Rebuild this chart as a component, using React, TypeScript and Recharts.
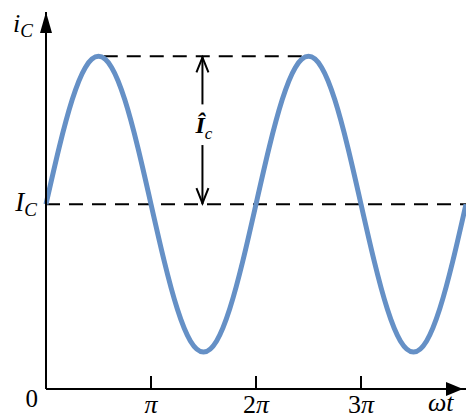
import React from 'react';
import { LineChart, Line, XAxis, YAxis, ReferenceLine, ReferenceDot } from 'recharts';

// ωt in units of π
const phase = [
  0, 0.125, 0.25, 0.375, 0.5, 0.625, 0.75, 0.875,
  1, 1.125, 1.25, 1.375, 1.5, 1.625, 1.75, 1.875,
  2, 2.125, 2.25, 2.375, 2.5, 2.625, 2.75, 2.875,
  3, 3.125, 3.25, 3.375, 3.5, 3.625, 3.75, 3.875, 4,
];
// collector current i_C (I_C = 5, peak 9, trough 1)
const current = [
  5, 6.53, 7.83, 8.7, 9, 8.7, 7.83, 6.53,
  5, 3.47, 2.17, 1.3, 1, 1.3, 2.17, 3.47,
  5, 6.53, 7.83, 8.7, 9, 8.7, 7.83, 6.53,
  5, 3.47, 2.17, 1.3, 1, 1.3, 2.17, 3.47, 5,
];
const xTicks = [1, 2, 3];
const xTickLabels = ['π', '2π', '3π'];
const yTicks = [0, 5];
const dcLevel = 5;
const peakLevel = 9;

const data = phase.map((p, i) => ({ p, i: current[i] }));

const serif = '"Liberation Serif", "DejaVu Serif", serif';
const blue = '#6590c6';

const XTick = (props: any) => {
  const { x, y, payload } = props;
  const idx = xTicks.indexOf(payload.value);
  const label = xTickLabels[idx] ?? '';
  const digit = label.length > 1 ? label.slice(0, -1) : '';
  return (
    <text x={x} y={y + 24} textAnchor="middle" fontFamily={serif} fontSize={26} fill="#000">
      {digit}
      <tspan fontStyle="italic">π</tspan>
    </text>
  );
};

const YTick = (props: any) => {
  const { x, y, payload } = props;
  if (payload.value === 0) {
    return (
      <text x={x - 8} y={y + 18} textAnchor="end" fontFamily={serif} fontSize={25} fill="#000">0</text>
    );
  }
  return (
    <text x={x - 9} y={y + 7} textAnchor="end" fontFamily={serif} fontStyle="italic" fontSize={27} fill="#000">
      I<tspan dy={5} fontSize={19}>C</tspan>
    </text>
  );
};

const upHead = (p: any) => <path d={`M${p.cx} ${p.cy} l-6 21 h12 z`} fill="#000" />;
const rightHead = (p: any) => <path d={`M${p.cx - 3} ${p.cy} l-17 -7 v14 z`} fill="#000" />;
const openUp = (p: any) => (
  <path d={`M${p.cx - 6} ${p.cy + 16} L${p.cx} ${p.cy + 1} L${p.cx + 6} ${p.cy + 16}`} stroke="#000" strokeWidth={2} fill="none" />
);
const openDown = (p: any) => (
  <path d={`M${p.cx - 6} ${p.cy - 16} L${p.cx} ${p.cy - 1} L${p.cx + 6} ${p.cy - 16}`} stroke="#000" strokeWidth={2} fill="none" />
);
const ampLabel = (p: any) => (
  <text x={p.cx - 7} y={p.cy + 8} fontFamily={serif} fontStyle="italic" fontWeight="bold" fontSize={24} fill="#000">
    Î<tspan dy={6} fontSize={17} fontWeight="normal">c</tspan>
  </text>
);
const yLabel = (p: any) => (
  <text x={p.cx - 33} y={p.cy + 20} fontFamily={serif} fontStyle="italic" fontSize={26} fill="#000">
    i<tspan dy={5} fontSize={19}>C</tspan>
  </text>
);
const xLabel = (p: any) => (
  <text x={p.cx - 38} y={p.cy + 22} fontFamily={serif} fontStyle="italic" fontSize={26} fill="#000">ωt</text>
);

export default function App() {
  return (
    <div style={{ position: 'absolute', left: 0, top: 0, width: 466, height: 419, background: '#fff' }}>
      <LineChart width={466} height={419} data={data} margin={{ top: 12, right: 0, bottom: 0, left: 0 }}>
        <XAxis
          dataKey="p"
          type="number"
          domain={[0, 4]}
          ticks={xTicks}
          tick={<XTick />}
          tickLine={false}
          tickSize={0}
          tickMargin={0}
          height={30}
          axisLine={{ stroke: '#000', strokeWidth: 2 }}
        />
        <YAxis
          type="number"
          domain={[0, 10.2]}
          ticks={yTicks}
          tick={<YTick />}
          tickLine={false}
          tickSize={0}
          tickMargin={0}
          width={46}
          axisLine={{ stroke: '#000', strokeWidth: 2 }}
        />
        <ReferenceLine y={dcLevel} stroke="#000" strokeWidth={2} strokeDasharray="14 9" />
        <ReferenceLine segment={[{ x: 0.55, y: peakLevel }, { x: 2.5, y: peakLevel }]} stroke="#000" strokeWidth={2} strokeDasharray="14 9" />
        {xTicks.map((t) => (
          <ReferenceLine key={t} segment={[{ x: t, y: 0 }, { x: t, y: 0.35 }]} stroke="#000" strokeWidth={2} />
        ))}
        <ReferenceLine segment={[{ x: 1.49, y: peakLevel }, { x: 1.49, y: 7.7 }]} stroke="#000" strokeWidth={2} />
        <ReferenceLine segment={[{ x: 1.49, y: 6.6 }, { x: 1.49, y: dcLevel }]} stroke="#000" strokeWidth={2} />
        <Line type="natural" dataKey="i" stroke={blue} strokeWidth={5} dot={false} isAnimationActive={false} />
        <ReferenceDot x={1.49} y={peakLevel} r={1} shape={openUp} />
        <ReferenceDot x={1.49} y={dcLevel} r={1} shape={openDown} />
        <ReferenceDot x={1.49} y={7.15} r={1} shape={ampLabel} />
        <ReferenceDot x={0} y={10.2} r={1} shape={upHead} />
        <ReferenceDot x={0} y={10.2} r={1} shape={yLabel} />
        <ReferenceDot x={4} y={0} r={1} shape={rightHead} />
        <ReferenceDot x={4} y={0} r={1} shape={xLabel} />
      </LineChart>
    </div>
  );
}
